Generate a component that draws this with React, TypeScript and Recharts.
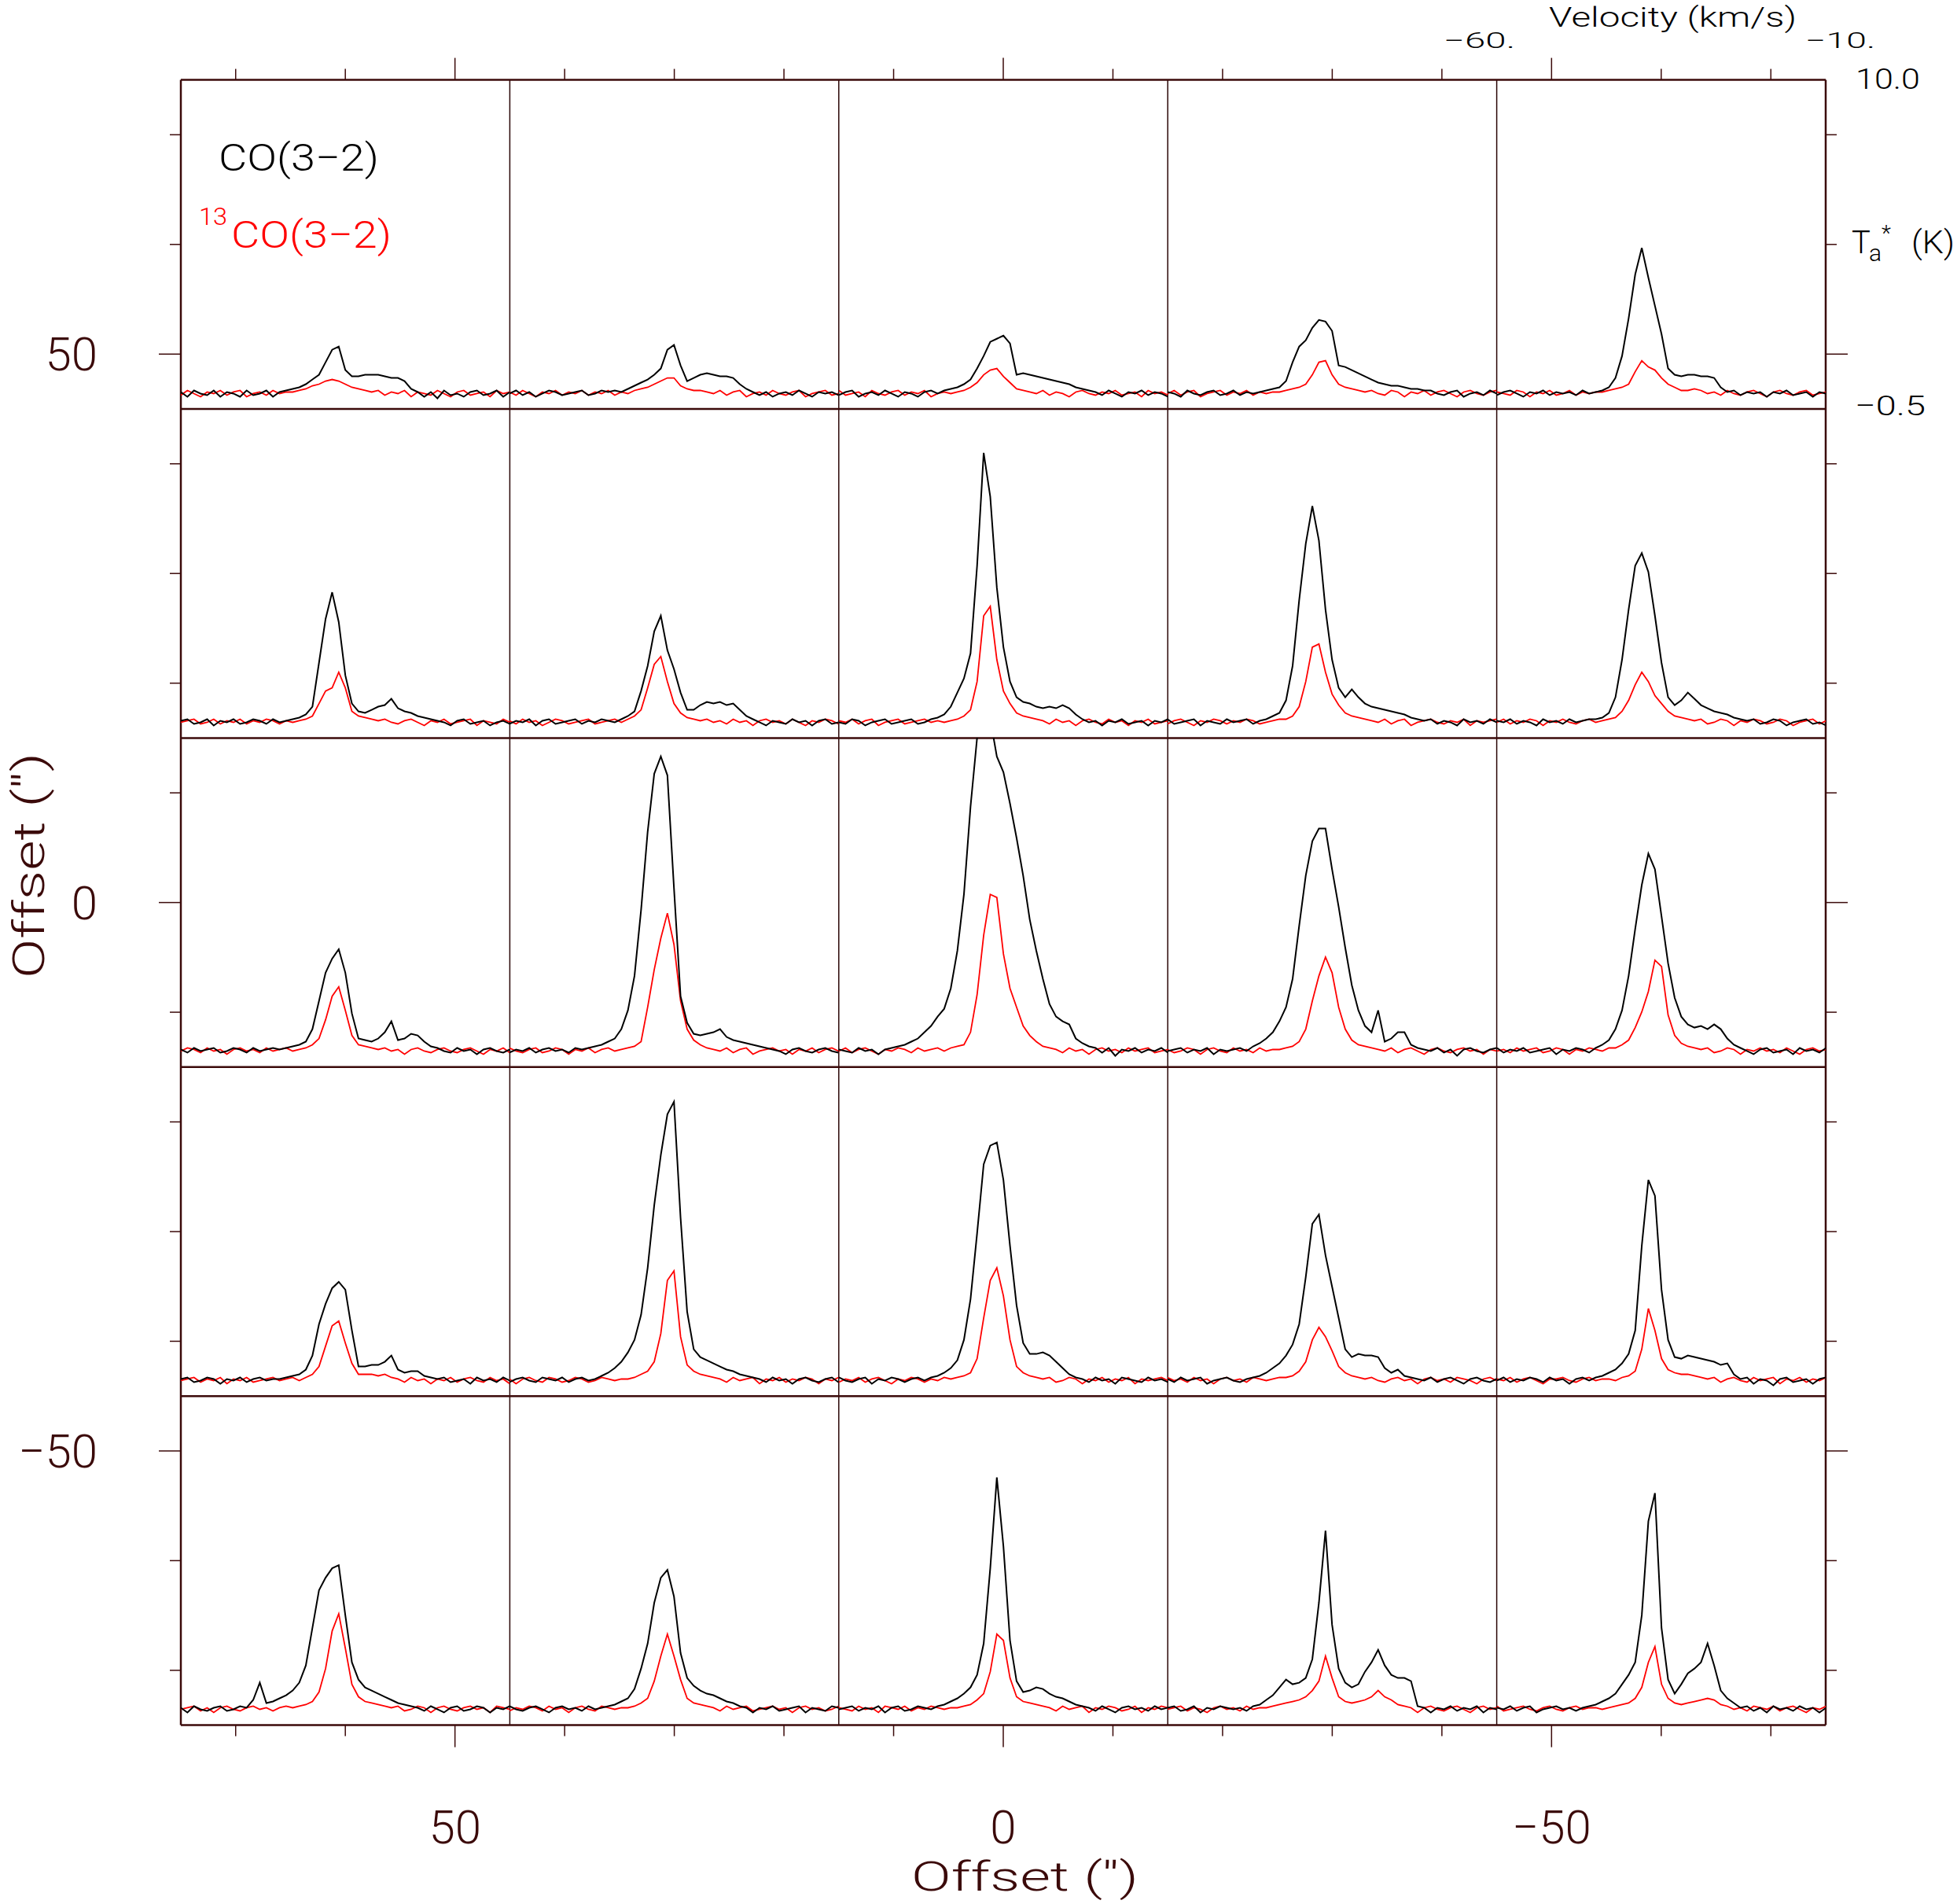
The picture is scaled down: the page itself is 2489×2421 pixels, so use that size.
import { ComposedChart, LineChart, Line, XAxis, YAxis, ReferenceLine } from 'recharts'

// ---- colours / fonts
const AXIS = '#3b0a0a'
const DIVIDER = '#2a0606'
const CO_COLOR = '#000000'
const C13_COLOR = '#ff0000'
const FONT = 'Roboto, "DejaVu Sans", sans-serif'

// ---- page + frame geometry
const PAGE_W = 2489
const PAGE_H = 2421
const FRAME_LEFT = 230
const FRAME_TOP = 101.6
const FRAME_SIZE = 2092
const OFFSET_RANGE = 75
const PANEL_HALF = 15
const PX_PER_ARCSEC = FRAME_SIZE / (2 * OFFSET_RANGE)
const PANEL_SIZE = 2 * PANEL_HALF * PX_PER_ARCSEC

// ---- axes
const RA_OFFSETS = [60, 30, 0, -30, -60]
const DEC_OFFSETS = [60, 30, 0, -30, -60]
const OFFSET_TICKS = [70, 60, 50, 40, 30, 20, 10, 0, -10, -20, -30, -40, -50, -60, -70]
const OFFSET_LABELS = [50, 0, -50]
const PANEL_EDGES = [45, 15, -15, -45]
const VEL_RANGE = [-60, -10]
const TA_RANGE = [-0.5, 10]

// velocity channels (km/s), shared by every spectrum
const VELOCITY = [
  -60, -59, -58, -57, -56, -55, -54, -53, -52, -51,
  -50, -49, -48, -47, -46, -45, -44, -43, -42, -41,
  -40, -39, -38, -37, -36, -35, -34, -33, -32, -31,
  -30, -29, -28, -27, -26, -25, -24, -23, -22, -21,
  -20, -19, -18, -17, -16, -15, -14, -13, -12, -11, -10,
]

// ---- spectra, Ta* (K); row r = dec offset, column c = ra offset
const co_r1c1 = [
  0.05, -0.1, 0.1, 0, -0.05, 0.1, -0.1, 0.05, 0, -0.1,
  0.1, -0.05, 0, 0.1, -0.1, 0.05, 0.1, 0.15, 0.2, 0.3,
  0.45, 0.6, 1.0, 1.4, 1.5, 0.75, 0.55, 0.55, 0.6, 0.6,
  0.6, 0.55, 0.5, 0.5, 0.4, 0.15, 0.05, -0.1, 0.05, -0.15,
  0.1, -0.05, 0, -0.1, 0.05, 0.1, -0.05, 0, 0.1, -0.1, 0.05,
]
const c13_r1c1 = [
  -0.05, 0.1, 0, -0.1, 0.05, 0, 0.1, -0.05, 0.05, 0.1,
  -0.1, 0, 0.05, -0.05, 0.1, 0, 0.05, 0.05, 0.1, 0.15,
  0.25, 0.3, 0.4, 0.45, 0.4, 0.3, 0.2, 0.15, 0.1, 0.05,
  0.1, -0.05, 0.05, 0, 0.1, -0.1, 0.05, 0, -0.05, 0.1,
  0, -0.1, 0.05, 0.1, -0.05, 0, 0.05, -0.1, 0.1, 0, 0.05,
]
const co_r1c2 = [
  0, 0.1, -0.05, 0.05, -0.1, 0, 0.1, 0.05, -0.05, 0,
  0.05, 0.1, -0.05, 0, 0.1, 0.05, 0.1, 0.05, 0.15, 0.25,
  0.35, 0.45, 0.6, 0.8, 1.4, 1.55, 0.9, 0.4, 0.5, 0.6,
  0.65, 0.6, 0.55, 0.55, 0.5, 0.3, 0.15, 0.05, -0.05, 0.05,
  -0.1, 0, 0.05, -0.05, 0.1, 0, -0.1, 0.05, 0, 0.05, -0.05,
]
const c13_r1c2 = [
  0.05, -0.05, 0.1, 0, -0.1, 0.05, 0, 0.1, -0.05, 0.05,
  0, 0.1, -0.05, 0.05, 0, 0.1, -0.05, 0.05, 0, 0.1,
  0.15, 0.2, 0.3, 0.4, 0.5, 0.5, 0.25, 0.15, 0.1, 0.1,
  0.05, 0, 0.1, -0.05, 0.05, 0.1, -0.1, 0, 0.05, -0.05,
  0.1, 0, -0.05, 0.05, 0.1, -0.1, 0, 0.05, 0.1, -0.05, 0,
]
const co_r1c3 = [
  -0.05, 0.05, 0.1, -0.1, 0, 0.05, -0.05, 0.1, 0, -0.1,
  0.05, 0, -0.1, 0.05, 0.1, 0, 0.1, 0.15, 0.2, 0.3,
  0.45, 0.8, 1.2, 1.65, 1.75, 1.85, 1.6, 0.6, 0.65, 0.6,
  0.55, 0.5, 0.45, 0.4, 0.35, 0.3, 0.2, 0.15, 0.1, 0.05,
  -0.05, 0.1, 0, -0.1, 0.05, 0, 0.1, -0.05, 0.05, 0, -0.1,
]
const c13_r1c3 = [
  0.1, -0.05, 0, 0.05, -0.1, 0.1, 0, -0.05, 0.05, 0.1,
  -0.05, 0.05, 0, 0.1, -0.1, 0, 0.05, 0, 0.05, 0.1,
  0.2, 0.35, 0.6, 0.75, 0.8, 0.55, 0.35, 0.15, 0.1, 0.05,
  0, 0.1, -0.05, 0.05, 0, -0.1, 0.05, 0.1, 0, -0.05,
  0.05, 0, 0.1, -0.05, 0, 0.05, -0.1, 0.1, 0, 0.05, -0.05,
]
const co_r1c4 = [
  0.05, 0, -0.1, 0.1, 0, -0.05, 0.05, 0.1, -0.05, 0,
  0.1, -0.05, 0.05, 0, 0.05, 0.1, 0.15, 0.2, 0.4, 1.0,
  1.5, 1.7, 2.1, 2.35, 2.3, 2.0, 0.9, 0.85, 0.75, 0.65,
  0.55, 0.45, 0.35, 0.3, 0.25, 0.25, 0.2, 0.15, 0.15, 0.1,
  0.1, 0, -0.05, 0.05, 0.1, -0.1, 0, 0.05, -0.05, 0.1, 0,
]
const c13_r1c4 = [
  0, 0.1, -0.05, 0.05, 0.1, -0.1, 0, 0.05, 0.1, -0.05,
  0.05, 0, 0.1, -0.05, 0.05, 0, 0.05, 0.05, 0.1, 0.15,
  0.2, 0.3, 0.6, 1.0, 1.05, 0.6, 0.3, 0.2, 0.15, 0.1,
  0.05, 0.1, 0, -0.05, 0.1, 0.05, -0.1, 0.05, 0, 0.1,
  -0.05, 0.05, 0.1, 0, -0.1, 0.05, 0.1, 0, -0.05, 0.05, 0.1,
]
const co_r1c5 = [
  -0.05, 0.05, 0.1, 0, -0.1, 0.05, 0, 0.1, -0.05, 0.05,
  0, 0.05, -0.05, 0.1, 0, 0.05, 0.1, 0.2, 0.5, 1.2,
  2.4, 3.8, 4.65, 3.7, 2.8, 1.9, 0.8, 0.6, 0.55, 0.6,
  0.6, 0.55, 0.55, 0.5, 0.2, 0.05, 0.1, -0.05, 0.05, 0,
  0.05, -0.1, 0.05, 0, 0.1, -0.05, 0, 0.05, -0.1, 0.05, 0,
]
const c13_r1c5 = [
  0.05, 0, -0.05, 0.1, 0.05, -0.1, 0.05, 0, 0.1, -0.05,
  0, 0.1, -0.05, 0.05, 0, 0.05, 0.05, 0.1, 0.15, 0.2,
  0.3, 0.7, 1.05, 0.85, 0.75, 0.5, 0.3, 0.2, 0.1, 0.1,
  0.15, 0.1, 0, 0.05, -0.05, 0.1, 0, -0.05, 0.05, 0.1,
  0, -0.1, 0.05, 0.1, 0, -0.05, 0.05, 0.1, -0.05, 0, 0.05,
]

const co_r2c1 = [
  0.05, 0.1, -0.05, 0, 0.1, -0.1, 0.05, 0, 0.1, -0.05,
  0, 0.1, 0.05, -0.05, 0.1, 0, 0.05, 0.1, 0.15, 0.25,
  0.5, 1.9, 3.3, 4.15, 3.2, 1.5, 0.6, 0.35, 0.3, 0.4,
  0.5, 0.55, 0.75, 0.45, 0.35, 0.3, 0.2, 0.15, 0.1, 0.05,
  0, -0.1, 0.05, 0.1, -0.05, 0, 0.05, -0.1, 0, 0.05, -0.05,
]
const c13_r2c1 = [
  0, 0.05, 0.1, -0.05, 0, 0.1, -0.05, 0.05, 0, 0.1,
  -0.05, 0.05, 0, 0.1, 0.05, -0.05, 0.05, 0, 0.05, 0.1,
  0.2, 0.6, 1.0, 1.1, 1.6, 1.1, 0.35, 0.2, 0.15, 0.1,
  0.05, 0.1, 0, -0.05, 0.05, 0.1, 0, -0.1, 0.05, 0,
  0.1, -0.05, 0, 0.05, 0.1, -0.1, 0.05, 0, -0.05, 0.1, 0,
]
const co_r2c2 = [
  -0.05, 0.05, 0, 0.1, -0.1, 0.05, 0.1, -0.05, 0, 0.05,
  0.1, -0.05, 0.05, 0, 0.1, 0.05, 0, 0.1, 0.2, 0.35,
  1.0, 1.8, 2.9, 3.4, 2.3, 1.7, 0.95, 0.4, 0.4, 0.55,
  0.65, 0.6, 0.65, 0.55, 0.6, 0.4, 0.2, 0.1, 0, -0.1,
  0.05, 0, -0.05, 0.1, 0, 0.05, -0.1, 0.05, 0.1, -0.05, 0,
]
const c13_r2c2 = [
  0.05, -0.05, 0.1, 0, 0.05, -0.1, 0, 0.1, 0.05, -0.05,
  0, 0.05, 0.1, -0.05, 0, 0.05, 0.1, 0, 0.1, 0.2,
  0.4, 1.1, 1.85, 2.1, 1.3, 0.6, 0.3, 0.15, 0.1, 0.05,
  0.1, 0, 0.05, -0.05, 0.1, 0, 0.05, -0.1, 0.05, 0.1,
  0, 0.05, -0.05, 0.1, 0, -0.1, 0.05, 0, 0.1, 0.05, -0.05,
]
const co_r2c3 = [
  0, -0.05, 0.1, 0.05, -0.1, 0, 0.05, 0.1, -0.05, 0,
  0.05, 0.1, -0.05, 0, 0.1, 0.15, 0.25, 0.5, 0.95, 1.4,
  2.2, 5.0, 8.6, 7.2, 4.3, 2.4, 1.3, 0.8, 0.65, 0.6,
  0.5, 0.45, 0.5, 0.45, 0.55, 0.45, 0.25, 0.1, 0, 0.05,
  -0.1, 0.05, 0, 0.1, -0.05, 0, 0.05, -0.1, 0.05, 0, 0.1,
]
const c13_r2c3 = [
  0.05, 0, 0.1, -0.05, 0.05, 0.1, -0.1, 0, 0.05, 0.1,
  -0.05, 0, 0.05, 0.1, 0, 0.05, 0, 0.05, 0.1, 0.2,
  0.4, 1.3, 3.4, 3.7, 2.0, 1.0, 0.6, 0.3, 0.2, 0.15,
  0.1, 0.05, -0.05, 0.1, 0, 0.05, -0.1, 0.05, 0.1, 0,
  -0.05, 0.1, 0, 0.05, -0.1, 0.05, 0, 0.1, -0.05, 0, 0.05,
]
const co_r2c4 = [
  0.1, -0.05, 0, 0.05, 0.1, -0.1, 0.05, 0, -0.05, 0.1,
  0, 0.05, 0.1, -0.05, 0.05, 0.1, 0.2, 0.3, 0.7, 1.8,
  3.9, 5.7, 6.9, 5.8, 3.6, 2.0, 1.1, 0.8, 1.05, 0.8,
  0.6, 0.5, 0.45, 0.4, 0.35, 0.3, 0.25, 0.15, 0.1, 0.05,
  0.1, -0.05, 0.05, 0, -0.1, 0.1, 0, 0.05, -0.05, 0.1, 0,
]
const c13_r2c4 = [
  -0.05, 0.05, 0.1, 0, -0.1, 0.05, 0, 0.1, 0.05, -0.05,
  0.05, 0, 0.1, 0.05, -0.05, 0, 0.05, 0.1, 0.1, 0.2,
  0.5, 1.3, 2.4, 2.5, 1.6, 0.9, 0.55, 0.3, 0.2, 0.15,
  0.1, 0.05, 0, 0.1, -0.05, 0.05, 0.1, -0.1, 0, 0.05,
  0.1, 0, -0.05, 0.05, 0, 0.1, -0.1, 0.05, 0, 0.05, 0.1,
]
const co_r2c5 = [
  0.05, 0, 0.1, -0.05, 0.05, 0, -0.1, 0.1, 0, 0.05,
  -0.05, 0.1, 0, 0.05, 0.1, 0.1, 0.15, 0.3, 0.8, 2.0,
  3.6, 5.0, 5.4, 4.8, 3.4, 1.9, 0.8, 0.55, 0.7, 0.95,
  0.75, 0.55, 0.45, 0.35, 0.3, 0.25, 0.15, 0.1, 0.05, 0.1,
  -0.05, 0, 0.1, 0.05, -0.1, 0, 0.05, 0.1, -0.05, 0, -0.1,
]
const c13_r2c5 = [
  0, 0.1, -0.05, 0.05, 0, 0.1, 0.05, -0.1, 0.05, 0,
  0.1, 0, -0.05, 0.05, 0.1, 0, 0.05, 0.1, 0.15, 0.35,
  0.7, 1.2, 1.6, 1.3, 0.85, 0.6, 0.35, 0.2, 0.15, 0.1,
  0.05, 0.1, -0.05, 0, 0.1, 0.05, -0.1, 0.05, 0, 0.1,
  0.05, -0.05, 0, 0.1, 0.05, -0.1, 0, 0.05, 0.1, -0.05, 0.05,
]

const co_r3c1 = [
  0.05, -0.05, 0.1, 0, 0.05, 0.1, -0.05, 0, 0.1, 0.05,
  -0.05, 0.1, 0, 0.05, 0.1, 0.05, 0.1, 0.15, 0.2, 0.3,
  0.7, 1.6, 2.5, 2.95, 3.25, 2.5, 1.2, 0.4, 0.35, 0.3,
  0.4, 0.6, 0.95, 0.35, 0.4, 0.55, 0.5, 0.3, 0.15, 0.1,
  0, -0.05, 0.1, 0, 0.05, -0.1, 0.05, 0.1, 0, -0.05, 0.05,
]
const c13_r3c1 = [
  0, 0.1, 0.05, -0.05, 0.1, 0, 0.05, -0.1, 0.05, 0.1,
  0, 0.05, -0.05, 0.1, 0, 0.05, 0.1, 0, 0.05, 0.1,
  0.2, 0.4, 1.0, 1.75, 2.05, 1.3, 0.5, 0.2, 0.15, 0.1,
  0.05, 0.1, 0, 0.05, -0.1, 0.05, 0.1, 0, -0.05, 0.05,
  0.1, 0, -0.05, 0.05, 0.1, 0, -0.1, 0.05, 0, 0.1, -0.05,
]
const co_r3c2 = [
  -0.05, 0.05, 0, 0.1, -0.05, 0.05, 0.1, 0, 0.05, -0.05,
  0.1, 0.05, 0.1, 0.15, 0.2, 0.3, 0.4, 0.7, 1.3, 2.4,
  4.5, 7.0, 8.85, 9.4, 8.8, 5.2, 1.75, 0.9, 0.55, 0.5,
  0.55, 0.6, 0.7, 0.45, 0.35, 0.3, 0.25, 0.2, 0.15, 0.1,
  0.05, 0, -0.1, 0.05, 0.1, 0, -0.05, 0.05, 0.1, 0, -0.05,
]
const c13_r3c2 = [
  0.1, 0, -0.05, 0.05, 0.1, -0.05, 0, 0.1, 0.05, -0.1,
  0.05, 0, 0.1, -0.05, 0.05, 0.1, 0, 0.05, 0.1, 0.15,
  0.3, 1.4, 2.6, 3.6, 4.4, 3.4, 1.6, 0.7, 0.35, 0.2,
  0.1, 0.05, 0, 0.1, -0.05, 0.05, 0.1, -0.1, 0, 0.05,
  0.1, 0, 0.05, -0.1, 0.05, 0, 0.1, -0.05, 0.05, 0.1, 0,
]
const co_r3c3 = [
  0.05, 0, -0.05, 0.1, 0, 0.05, -0.1, 0.05, 0.1, 0.15,
  0.2, 0.3, 0.4, 0.6, 0.8, 1.1, 1.35, 2.0, 3.2, 5.0,
  7.8, 10.0, 10.8, 10.6, 9.4, 8.9, 7.9, 6.8, 5.6, 4.2,
  3.2, 2.3, 1.5, 1.1, 0.95, 0.85, 0.4, 0.25, 0.15, 0.1,
  -0.05, 0.1, -0.15, 0.05, 0, 0.1, -0.05, 0.05, 0, 0.1, -0.05,
]
const c13_r3c3 = [
  0, 0.1, -0.05, 0.05, 0.1, 0, -0.1, 0.05, 0, 0.1,
  0.05, -0.05, 0.1, 0, 0.05, 0.1, 0, 0.1, 0.15, 0.2,
  0.6, 1.8, 3.7, 5.0, 4.9, 3.1, 2.0, 1.4, 0.8, 0.5,
  0.3, 0.15, 0.1, 0.05, -0.05, 0.1, 0, 0.05, -0.1, 0.05,
  0.1, 0, 0.05, -0.05, 0.1, 0, 0.05, 0.1, -0.05, 0, 0.05,
]
const co_r3c4 = [
  0, 0.05, 0.1, -0.05, 0.05, 0, 0.1, -0.1, 0.05, 0,
  0.05, 0.1, 0, 0.15, 0.25, 0.4, 0.6, 0.95, 1.4, 2.3,
  4.0, 5.6, 6.7, 7.1, 7.1, 5.8, 4.6, 3.3, 2.1, 1.3,
  0.8, 0.6, 1.3, 0.3, 0.4, 0.6, 0.6, 0.2, 0.1, 0.05,
  0, 0.1, -0.05, 0.05, -0.15, 0.05, 0.1, 0, -0.05, 0.05, 0.1,
]
const c13_r3c4 = [
  0.05, -0.05, 0, 0.1, 0.05, -0.1, 0.05, 0.1, 0, -0.05,
  0.1, 0, 0.05, -0.05, 0.1, 0, 0.05, 0.05, 0.1, 0.15,
  0.3, 0.7, 1.6, 2.4, 3.0, 2.5, 1.4, 0.7, 0.35, 0.2,
  0.15, 0.1, 0.05, 0, 0.1, -0.05, 0.05, 0.1, 0, -0.1,
  0.05, 0.1, 0, -0.05, 0.05, 0.1, 0, 0.05, -0.1, 0.05, 0,
]
const co_r3c5 = [
  0.1, -0.05, 0.05, 0, 0.1, -0.05, 0, 0.05, 0.1, -0.1,
  0.05, 0, 0.1, 0.05, -0.05, 0.1, 0.2, 0.35, 0.7, 1.3,
  2.4, 3.9, 5.3, 6.3, 5.8, 4.3, 2.8, 1.7, 1.1, 0.85,
  0.75, 0.8, 0.7, 0.85, 0.7, 0.4, 0.2, 0.1, 0, -0.1,
  0.05, 0.1, -0.05, 0, 0.05, -0.1, 0.1, 0, 0.05, -0.05, 0.1,
]
const c13_r3c5 = [
  0, 0.05, -0.05, 0.1, 0, 0.05, 0.1, -0.05, 0, 0.1,
  0.05, -0.1, 0.05, 0, 0.1, 0.05, 0, 0.1, 0.1, 0.2,
  0.35, 0.75, 1.25, 1.9, 2.9, 2.7, 1.15, 0.5, 0.25, 0.15,
  0.1, 0.05, 0.1, -0.05, 0, 0.1, 0.05, -0.1, 0.05, 0,
  0.1, 0, 0.05, -0.05, 0.1, 0, -0.1, 0.05, 0.1, 0, 0.05,
]

const co_r4c1 = [
  0.05, 0.1, -0.05, 0, 0.1, 0.05, -0.1, 0.05, 0, 0.1,
  -0.05, 0.05, 0.1, 0, 0.05, 0.05, 0.1, 0.15, 0.2, 0.35,
  0.8, 1.8, 2.45, 2.95, 3.15, 2.9, 1.6, 0.45, 0.45, 0.5,
  0.5, 0.6, 0.8, 0.35, 0.25, 0.3, 0.3, 0.15, 0.1, 0.05,
  0.1, -0.05, 0, 0.05, -0.1, 0.1, 0, 0.05, -0.05, 0.1, 0,
]
const c13_r4c1 = [
  0, 0.05, 0.1, -0.05, 0.05, 0, 0.1, -0.1, 0.05, 0,
  0.1, -0.05, 0, 0.05, 0.1, 0, 0.05, 0.1, 0, 0.1,
  0.2, 0.45, 1.1, 1.75, 1.9, 1.2, 0.55, 0.2, 0.2, 0.2,
  0.15, 0.2, 0.1, 0.05, -0.05, 0.1, 0, 0.05, -0.1, 0.05,
  0, 0.1, -0.05, 0.05, 0.1, 0, -0.05, 0.1, 0, 0.05, -0.1,
]
const co_r4c2 = [
  -0.05, 0.05, 0.1, 0, -0.05, 0.1, 0.05, 0, 0.1, -0.05,
  0.05, 0.1, 0, 0.05, 0.15, 0.25, 0.4, 0.6, 0.9, 1.3,
  2.1, 3.6, 5.6, 7.2, 8.5, 8.9, 5.2, 2.2, 1.0, 0.75,
  0.65, 0.55, 0.45, 0.35, 0.3, 0.2, 0.15, 0.1, 0.05, -0.05,
  0.1, 0, 0.05, -0.1, 0.05, 0.1, 0, -0.05, 0.05, 0.1, -0.05,
]
const c13_r4c2 = [
  0.05, -0.1, 0.05, 0.1, 0, -0.05, 0.1, 0.05, -0.05, 0,
  0.1, 0.05, -0.05, 0, 0.1, 0.05, 0, 0.05, 0.05, 0.1,
  0.2, 0.3, 0.6, 1.5, 3.2, 3.5, 1.4, 0.5, 0.3, 0.2,
  0.15, 0.1, 0.05, -0.05, 0.1, 0, 0.05, 0.1, -0.1, 0.05,
  0, 0.1, -0.05, 0.05, 0, 0.1, 0.05, -0.1, 0.05, 0, 0.1,
]
const co_r4c3 = [
  0.1, 0, -0.05, 0.05, 0.1, -0.1, 0.05, 0, 0.1, 0.05,
  -0.05, 0.05, 0.1, 0, 0.1, 0.15, 0.25, 0.4, 0.65, 1.3,
  2.6, 4.7, 6.9, 7.5, 7.6, 6.4, 4.3, 2.4, 1.2, 0.85,
  0.85, 0.9, 0.8, 0.6, 0.4, 0.2, 0.1, 0.05, -0.05, 0.1,
  0, 0.05, -0.1, 0.1, 0.05, 0, -0.05, 0.1, 0, 0.05, -0.05,
]
const c13_r4c3 = [
  -0.05, 0.05, 0, 0.1, -0.05, 0.05, 0.1, 0, -0.1, 0.05,
  0, 0.1, 0.05, -0.05, 0.05, 0, 0.1, 0.05, 0.1, 0.15,
  0.25, 0.7, 2.0, 3.2, 3.6, 2.7, 1.3, 0.45, 0.25, 0.15,
  0.1, 0.05, 0.1, -0.05, 0, 0.1, 0.05, -0.1, 0.05, 0,
  0.1, -0.05, 0.05, 0, 0.1, -0.1, 0.05, 0, 0.05, 0.1, 0,
]
const co_r4c4 = [
  0.05, -0.05, 0.1, 0, 0.05, 0.1, -0.1, 0, 0.05, 0.1,
  0, -0.05, 0.05, 0.1, 0.15, 0.25, 0.4, 0.55, 0.8, 1.15,
  1.8, 3.3, 5.0, 5.3, 4.0, 3.0, 2.0, 1.0, 0.75, 0.85,
  0.8, 0.8, 0.75, 0.4, 0.25, 0.35, 0.15, 0.1, 0.05, 0,
  0.1, -0.05, 0.05, 0.1, 0, -0.1, 0.05, 0.1, 0, -0.05, 0.05,
]
const c13_r4c4 = [
  0.1, 0, 0.05, -0.05, 0.1, 0, 0.05, -0.1, 0.05, 0.1,
  0, 0.05, -0.05, 0.1, 0.05, 0, 0.05, 0.1, 0.1, 0.15,
  0.3, 0.6, 1.3, 1.7, 1.4, 0.95, 0.45, 0.25, 0.15, 0.1,
  0.05, 0.1, 0, -0.05, 0.05, 0.1, 0, 0.05, -0.1, 0.05,
  0.1, 0, 0.05, -0.05, 0.1, 0.05, 0, -0.1, 0.05, 0.1, 0,
]
const co_r4c5 = [
  0, 0.1, -0.05, 0.05, 0, 0.1, 0.05, -0.05, 0.1, 0,
  0.05, -0.1, 0.05, 0.1, 0, 0.1, 0.15, 0.25, 0.35, 0.55,
  0.85, 1.6, 4.3, 6.4, 5.9, 2.9, 1.3, 0.75, 0.7, 0.8,
  0.75, 0.7, 0.65, 0.6, 0.5, 0.55, 0.2, 0.05, 0.1, -0.1,
  0.05, 0, -0.15, 0.05, 0.1, -0.05, 0, 0.05, -0.1, 0.05, 0.1,
]
const c13_r4c5 = [
  0.05, 0, 0.1, -0.05, 0.05, 0.1, 0, -0.1, 0.05, 0.05,
  0.1, 0, -0.05, 0.05, 0.1, 0, 0.05, 0.05, 0, 0.1,
  0.15, 0.3, 1.0, 2.3, 1.6, 0.7, 0.35, 0.25, 0.2, 0.2,
  0.15, 0.1, 0.05, 0.1, -0.05, 0.05, 0.1, 0, -0.05, 0.1,
  0, 0.05, 0.1, -0.1, 0.05, 0, 0.1, -0.05, 0.05, 0, 0.1,
]

const co_r5c1 = [
  0.05, -0.1, 0.1, 0, -0.05, 0.05, 0.1, -0.05, 0, 0.1,
  0.05, 0.3, 0.85, 0.2, 0.25, 0.35, 0.45, 0.6, 0.85, 1.4,
  2.6, 3.8, 4.2, 4.5, 4.6, 3.0, 1.5, 0.95, 0.7, 0.6,
  0.5, 0.4, 0.3, 0.2, 0.15, 0.1, 0.05, -0.05, 0.1, 0,
  -0.1, 0.05, 0.1, -0.05, 0, 0.1, 0.05, -0.1, 0.05, 0, 0.1,
]
const c13_r5c1 = [
  0, 0.05, 0.1, -0.05, 0.05, -0.1, 0.05, 0.1, 0, -0.05,
  0.05, 0.1, 0, 0.05, -0.05, 0.05, 0.1, 0.05, 0.1, 0.15,
  0.25, 0.55, 1.3, 2.5, 3.05, 1.95, 0.8, 0.4, 0.25, 0.2,
  0.15, 0.1, 0.05, 0.1, -0.05, 0, 0.1, 0.05, -0.1, 0.05,
  0.1, 0, -0.05, 0.05, 0.1, 0, 0.05, -0.1, 0.1, 0.05, 0,
]
const co_r5c2 = [
  0.1, 0, -0.05, 0.05, 0.1, 0, -0.1, 0.05, 0.1, 0,
  0.05, -0.05, 0.1, 0, 0.05, 0.1, 0.15, 0.25, 0.35, 0.65,
  1.3, 2.1, 3.4, 4.2, 4.45, 3.6, 1.8, 1.0, 0.75, 0.6,
  0.5, 0.45, 0.35, 0.25, 0.2, 0.1, 0.05, -0.1, 0.05, 0,
  0.1, -0.05, 0, 0.05, 0.1, -0.1, 0.05, 0, -0.05, 0.1, 0.05,
]
const c13_r5c2 = [
  -0.05, 0.05, 0, 0.1, 0.05, -0.05, 0.1, 0, 0.05, -0.1,
  0.05, 0.1, 0, -0.05, 0.1, 0.05, 0, 0.05, 0.05, 0.1,
  0.2, 0.35, 0.9, 1.7, 2.4, 1.7, 0.95, 0.35, 0.2, 0.15,
  0.1, 0.05, -0.05, 0.1, 0, 0.05, 0.1, -0.05, 0, 0.05,
  0.1, 0, 0.05, -0.1, 0.05, 0.1, 0, 0.05, -0.05, 0, 0.1,
]
const co_r5c3 = [
  0, 0.05, 0.1, -0.05, 0.05, 0, 0.1, -0.1, 0.05, 0.1,
  -0.05, 0, 0.1, 0.05, 0, 0.1, 0.15, 0.25, 0.35, 0.5,
  0.7, 1.1, 2.1, 4.5, 7.4, 5.2, 2.2, 0.9, 0.55, 0.6,
  0.7, 0.65, 0.5, 0.4, 0.35, 0.25, 0.15, 0.1, 0.05, -0.05,
  0.1, 0, -0.1, 0.05, 0.1, 0, 0.05, -0.05, 0.1, 0, 0.05,
]
const c13_r5c3 = [
  0.05, 0, -0.05, 0.1, 0, 0.05, -0.1, 0.1, 0.05, 0,
  0.1, -0.05, 0.05, 0, 0.1, 0.05, 0, 0.05, 0.05, 0.1,
  0.15, 0.3, 0.5, 1.2, 2.4, 2.2, 1.0, 0.4, 0.25, 0.2,
  0.15, 0.1, 0.05, -0.05, 0.1, 0, 0.05, 0.1, -0.1, 0.05,
  0, 0.1, 0.05, -0.05, 0, 0.1, -0.1, 0.05, 0, 0.1, 0.05,
]
const co_r5c4 = [
  0.05, 0.1, -0.05, 0, 0.1, -0.1, 0.05, 0, 0.1, 0.05,
  0, 0.05, -0.05, 0.1, 0.15, 0.3, 0.45, 0.7, 0.95, 0.8,
  0.85, 1.0, 1.6, 3.4, 5.7, 2.7, 1.3, 0.85, 0.7, 0.8,
  1.2, 1.5, 1.9, 1.4, 1.1, 1.0, 1.0, 0.9, 0.1, 0.05,
  -0.1, 0.05, 0, 0.1, -0.05, 0.05, 0, 0.1, -0.1, 0.05, 0,
]
const c13_r5c4 = [
  0, 0.05, 0.1, -0.05, 0.05, 0, -0.1, 0.05, 0.1, 0,
  0.05, -0.05, 0.1, 0, 0.05, 0.05, 0.1, 0.15, 0.2, 0.25,
  0.3, 0.4, 0.6, 0.9, 1.7, 1.0, 0.4, 0.25, 0.2, 0.25,
  0.3, 0.4, 0.6, 0.4, 0.3, 0.15, 0.1, 0.05, -0.1, 0.05,
  0.1, 0, -0.05, 0.05, 0.1, 0, -0.1, 0.05, 0.1, 0, 0.05,
]
const co_r5c5 = [
  0.05, 0, 0.1, -0.05, 0.05, 0.1, -0.1, 0, 0.05, 0.1,
  0, 0.05, -0.05, 0.05, 0.1, 0.15, 0.25, 0.35, 0.5, 0.8,
  1.1, 1.5, 3.0, 6.0, 6.9, 2.6, 0.95, 0.5, 0.8, 1.15,
  1.3, 1.5, 2.1, 1.4, 0.6, 0.35, 0.2, 0.05, 0.1, -0.05,
  0.05, -0.1, 0.1, 0, 0.05, -0.05, 0.1, 0, 0.05, -0.1, 0.05,
]
const c13_r5c5 = [
  0.1, -0.05, 0, 0.05, 0.1, 0, -0.05, 0.05, 0.1, 0,
  -0.05, 0.05, 0.1, 0, 0.05, 0.05, 0, 0.05, 0.1, 0.15,
  0.2, 0.35, 0.7, 1.5, 2.0, 0.8, 0.35, 0.2, 0.15, 0.2,
  0.25, 0.3, 0.35, 0.3, 0.15, 0.1, 0, 0.05, -0.05, 0.1,
  0.05, 0, 0.1, -0.05, 0.05, 0.1, 0, -0.1, 0.05, 0, 0.1,
]

// grid tables, [row][col], built from the arrays above
const CO_GRID = [
  [co_r1c1, co_r1c2, co_r1c3, co_r1c4, co_r1c5],
  [co_r2c1, co_r2c2, co_r2c3, co_r2c4, co_r2c5],
  [co_r3c1, co_r3c2, co_r3c3, co_r3c4, co_r3c5],
  [co_r4c1, co_r4c2, co_r4c3, co_r4c4, co_r4c5],
  [co_r5c1, co_r5c2, co_r5c3, co_r5c4, co_r5c5],
]
const C13_GRID = [
  [c13_r1c1, c13_r1c2, c13_r1c3, c13_r1c4, c13_r1c5],
  [c13_r2c1, c13_r2c2, c13_r2c3, c13_r2c4, c13_r2c5],
  [c13_r3c1, c13_r3c2, c13_r3c3, c13_r3c4, c13_r3c5],
  [c13_r4c1, c13_r4c2, c13_r4c3, c13_r4c4, c13_r4c5],
  [c13_r5c1, c13_r5c2, c13_r5c3, c13_r5c4, c13_r5c5],
]

const MINUS = '\u2212'
const fmtOffset = (v: number) => (v < 0 ? `${MINUS}${-v}` : `${v}`)
const isMajor = (v: number) => OFFSET_LABELS.includes(v)
const tickLen = (v: number) => (isMajor(v) ? 28 : 14)

function BottomTick({ x, y, payload }: any) {
  const v = payload.value
  return (
    <g>
      <line x1={x} x2={x} y1={y} y2={y + tickLen(v)} stroke={AXIS} strokeWidth={1.5} />
      {isMajor(v) && (
        <text x={x} y={y + 150} textAnchor="middle" fontSize={60} fontWeight={300} fill={AXIS} fontFamily={FONT}>
          {fmtOffset(v)}
        </text>
      )}
    </g>
  )
}

function TopTick({ x, y, payload }: any) {
  const v = payload.value
  return <line x1={x} x2={x} y1={y} y2={y - tickLen(v)} stroke={AXIS} strokeWidth={1.5} />
}

function LeftTick({ x, y, payload }: any) {
  const v = payload.value
  return (
    <g>
      <line x1={x} x2={x - tickLen(v)} y1={y} y2={y} stroke={AXIS} strokeWidth={1.5} />
      {isMajor(v) && (
        <text x={x - 106} y={y + 21} textAnchor="end" fontSize={60} fontWeight={300} fill={AXIS} fontFamily={FONT}>
          {fmtOffset(v)}
        </text>
      )}
    </g>
  )
}

function RightTick({ x, y, payload }: any) {
  const v = payload.value
  return <line x1={x} x2={x + tickLen(v)} y1={y} y2={y} stroke={AXIS} strokeWidth={1.5} />
}

function SpectrumPanel({ co, c13 }: { co: number[]; c13: number[] }) {
  const data = VELOCITY.map((v, i) => ({ v, co: co[i], c13: c13[i] }))
  return (
    <LineChart width={PANEL_SIZE} height={PANEL_SIZE} data={data} margin={{ top: 0, right: 0, bottom: 0, left: 0 }}>
      <XAxis dataKey="v" type="number" domain={VEL_RANGE} allowDataOverflow hide />
      <YAxis type="number" domain={TA_RANGE} allowDataOverflow hide />
      <Line type="linear" dataKey="c13" stroke={C13_COLOR} strokeWidth={1.8} dot={false} isAnimationActive={false} />
      <Line type="linear" dataKey="co" stroke={CO_COLOR} strokeWidth={2} dot={false} isAnimationActive={false} />
    </LineChart>
  )
}

export default function App() {
  const framePoints = DEC_OFFSETS.flatMap((dec) => RA_OFFSETS.map((ra) => ({ ra, dec })))
  const axisCommon = {
    type: 'number' as const,
    domain: [-OFFSET_RANGE, OFFSET_RANGE],
    allowDataOverflow: true,
    ticks: OFFSET_TICKS,
    interval: 0 as const,
    tickSize: 0,
    tickMargin: 0,
    tickLine: false,
    axisLine: { stroke: AXIS, strokeWidth: 2.5 },
  }
  const textStyle = { fontFamily: FONT, fontWeight: 300 }
  const stretch = { lengthAdjust: 'spacingAndGlyphs' as const }

  return (
    <div style={{ position: 'absolute', left: 0, top: 0, width: PAGE_W, height: PAGE_H, background: '#fff' }}>
      <div style={{ position: 'absolute', left: 0, top: 0 }}>
        {/* axes are 1px thick boxes, so pull the margins in by 1 to keep the frame in place */}
        <ComposedChart
          width={PAGE_W}
          height={PAGE_H}
          data={framePoints}
          margin={{
            top: FRAME_TOP - 1,
            left: FRAME_LEFT - 1,
            right: PAGE_W - FRAME_LEFT - FRAME_SIZE - 1,
            bottom: PAGE_H - FRAME_TOP - FRAME_SIZE - 1,
          }}
        >
          <XAxis {...axisCommon} xAxisId="bottom" dataKey="ra" orientation="bottom" reversed height={1} tick={(p: any) => <BottomTick {...p} />} />
          <XAxis {...axisCommon} xAxisId="top" dataKey="ra" orientation="top" reversed height={1} tick={(p: any) => <TopTick {...p} />} />
          <YAxis {...axisCommon} yAxisId="left" dataKey="dec" orientation="left" width={1} tick={(p: any) => <LeftTick {...p} />} />
          <YAxis {...axisCommon} yAxisId="right" dataKey="dec" orientation="right" width={1} tick={(p: any) => <RightTick {...p} />} />
          {PANEL_EDGES.map((e) => (
            <ReferenceLine key={`v${e}`} x={e} xAxisId="bottom" yAxisId="left" stroke={DIVIDER} strokeWidth={1.5} />
          ))}
          {PANEL_EDGES.map((e) => (
            <ReferenceLine key={`h${e}`} y={e} xAxisId="bottom" yAxisId="left" stroke={AXIS} strokeWidth={2.5} />
          ))}
        </ComposedChart>
      </div>

      {DEC_OFFSETS.map((dec, r) =>
        RA_OFFSETS.map((ra, c) => (
          <div
            key={`${r}-${c}`}
            style={{
              position: 'absolute',
              left: FRAME_LEFT + (OFFSET_RANGE - (ra + PANEL_HALF)) * PX_PER_ARCSEC,
              top: FRAME_TOP + (OFFSET_RANGE - (dec + PANEL_HALF)) * PX_PER_ARCSEC,
            }}
          >
            <SpectrumPanel co={CO_GRID[r][c]} c13={C13_GRID[r][c]} />
          </div>
        )),
      )}

      <svg
        width={PAGE_W}
        height={PAGE_H}
        style={{ position: 'absolute', left: 0, top: 0, pointerEvents: 'none' }}
      >
        {/* legend */}
        <text x={278} y={217} fontSize={48} textLength={204} {...stretch} fill={CO_COLOR} style={textStyle}>
          CO(3{MINUS}2)
        </text>
        <text x={253} y={286} fontSize={31} textLength={36} {...stretch} fill={C13_COLOR} style={textStyle}>
          13
        </text>
        <text x={294} y={315} fontSize={48} textLength={204} {...stretch} fill={C13_COLOR} style={textStyle}>
          CO(3{MINUS}2)
        </text>

        {/* box axes, top-right */}
        <text x={1970} y={34} fontSize={35} textLength={315} {...stretch} fill="#000" style={textStyle}>
          Velocity (km/s)
        </text>
        <text x={1836} y={61} fontSize={27} textLength={91} {...stretch} fill="#000" style={textStyle}>
          {MINUS}60.
        </text>
        <text x={2296} y={61} fontSize={27} textLength={89} {...stretch} fill="#000" style={textStyle}>
          {MINUS}10.
        </text>
        <text x={2360} y={113} fontSize={36} textLength={82} {...stretch} fill="#000" style={textStyle}>
          10.0
        </text>
        <text x={2359} y={528} fontSize={35} textLength={90} {...stretch} fill="#000" style={textStyle}>
          {MINUS}0.5
        </text>
        <text x={2355} y={322} fontSize={40} fill="#000" style={textStyle}>
          T
        </text>
        <text x={2377} y={332} fontSize={30} fill="#000" style={textStyle}>
          a
        </text>
        <text x={2393} y={306} fontSize={28} fill="#000" style={textStyle}>
          *
        </text>
        <text x={2431} y={322} fontSize={40} textLength={55} {...stretch} fill="#000" style={textStyle}>
          (K)
        </text>

        {/* outer axis titles */}
        <text x={1159} y={2404} fontSize={52} textLength={289} {...stretch} fill={AXIS} style={textStyle}>
          Offset ('')
        </text>
        <text
          x={56}
          y={1244}
          fontSize={56}
          textLength={287}
          {...stretch}
          fill={AXIS}
          style={textStyle}
          transform="rotate(-90 56 1244)"
        >
          Offset ('')
        </text>
      </svg>
    </div>
  )
}
